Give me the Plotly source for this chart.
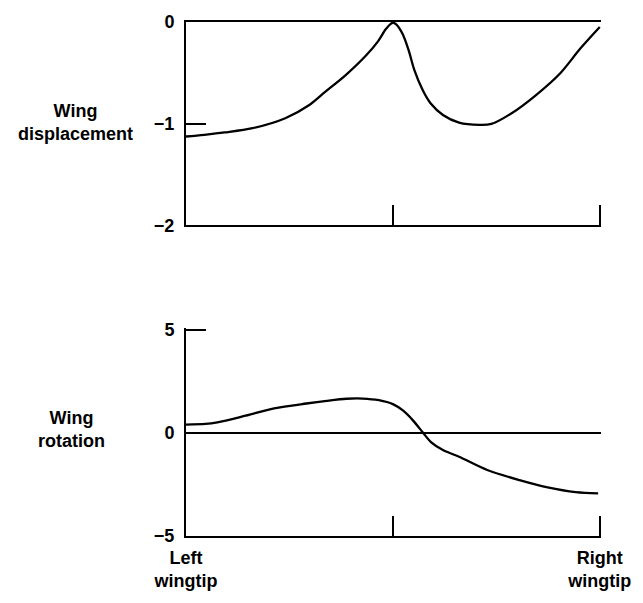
import plotly.graph_objects as go

# Span position: 0 = left wingtip, 1 = right wingtip
disp_x = [0.0, 0.044, 0.093, 0.161, 0.24, 0.298, 0.337, 0.386, 0.435, 0.464, 0.484, 0.499,
          0.508, 0.523, 0.538, 0.552, 0.572, 0.591, 0.621, 0.66, 0.709, 0.738, 0.787,
          0.846, 0.904, 0.953, 1.0]
disp_y = [-1.126, -1.109, -1.086, -1.044, -0.946, -0.816, -0.685, -0.522, -0.33, -0.19,
          -0.065, -0.008, -0.023, -0.114, -0.277, -0.473, -0.669, -0.799, -0.914, -0.989,
          -1.011, -1.002, -0.897, -0.718, -0.506, -0.261, -0.049]

rot_x = [0.0, 0.047, 0.076, 0.144, 0.213, 0.291, 0.34, 0.388, 0.427, 0.466, 0.5, 0.525,
         0.549, 0.573, 0.592, 0.622, 0.66, 0.728, 0.806, 0.874, 0.942, 0.996]
rot_y = [0.40, 0.43, 0.51, 0.83, 1.18, 1.42, 1.55, 1.65, 1.66, 1.58, 1.39, 1.07,
         0.59, 0.0, -0.45, -0.85, -1.16, -1.80, -2.29, -2.64, -2.87, -2.93]

x_ticks = [0, 0.5, 1]
x_ticktext = ["Left<br>wingtip", "", "Right<br>wingtip"]
disp_ticks = [0, -1, -2]
disp_ticktext = ["0", "\u22121", "\u22122"]
rot_ticks = [5, 0, -5]
rot_ticktext = ["5", "0", "\u22125"]

W, H = 643, 603
L, R, T, B = 186, 36, 18, 67
pw = W - L - R
ph = H - T - B

def frac(py):
    return (H - B - py) / ph

def xfrac(px):
    return (px - L) / pw

FONT = dict(family="Liberation Sans, Arial, sans-serif", size=18, color="black", weight="bold")

fig = go.Figure()
fig.add_trace(go.Scatter(x=disp_x, y=disp_y, mode="lines", xaxis="x", yaxis="y",
                         line=dict(color="black", width=2.3, shape="spline", smoothing=0.9),
                         showlegend=False, cliponaxis=False, hoverinfo="skip"))
fig.add_trace(go.Scatter(x=rot_x, y=rot_y, mode="lines", xaxis="x2", yaxis="y2",
                         line=dict(color="black", width=2.3, shape="spline", smoothing=0.9),
                         showlegend=False, cliponaxis=False, hoverinfo="skip"))

axis_common = dict(showgrid=False, showline=True, linecolor="black", linewidth=2,
                   ticks="inside", ticklen=20, tickwidth=2, tickcolor="black",
                   tickfont=FONT)

# bottom panel: 5 sits at pixel 328, scale from -5 (536) to 5 (328)
rot_top = 5.08
rot_dom_top_px = 536 - (rot_top + 5) * (536 - 328) / 10

fig.update_layout(
    width=W, height=H,
    margin=dict(l=L, r=R, t=T, b=B),
    paper_bgcolor="white", plot_bgcolor="white",
    font=FONT,
    xaxis=dict(domain=[0, 1], range=[0, 1.003], anchor="y", tickvals=x_ticks,
               showticklabels=False, mirror=True, zeroline=False, **axis_common),
    yaxis=dict(domain=[frac(223), 1], range=[-2, 0], anchor="x", tickvals=disp_ticks,
               ticktext=disp_ticktext, zeroline=False, ticklabelstandoff=6, **axis_common),
    xaxis2=dict(domain=[0, 1], range=[0, 1.003], anchor="y2", tickvals=x_ticks,
                ticktext=x_ticktext, zeroline=False, ticklabelstandoff=4, **axis_common),
    yaxis2=dict(domain=[0, frac(rot_dom_top_px)], range=[-5, rot_top], anchor="x2",
                tickvals=rot_ticks, ticktext=rot_ticktext, zeroline=True,
                zerolinecolor="black", zerolinewidth=2, ticklabelstandoff=6, **axis_common),
)

fig.add_annotation(text="Wing<br>displacement", xref="paper", yref="paper",
                   x=xfrac(74), y=frac(119), xanchor="center", yanchor="middle",
                   align="center", showarrow=False, font=FONT)
fig.add_annotation(text="Wing<br>rotation", xref="paper", yref="paper",
                   x=xfrac(70), y=frac(429), xanchor="center", yanchor="middle",
                   align="center", showarrow=False, font=FONT)

fig.write_html("out.html", config={"displayModeBar": False},
               post_script="document.body.style.margin='0';")
